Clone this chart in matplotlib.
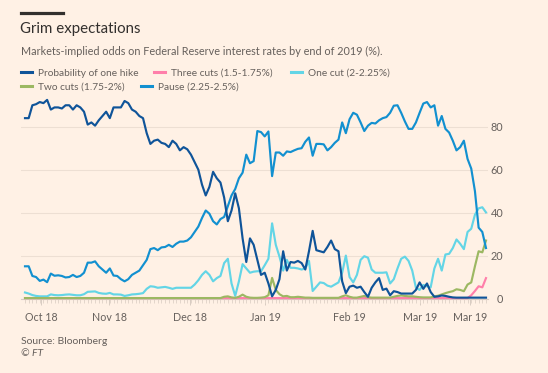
import matplotlib
matplotlib.use("Agg")
import matplotlib.pyplot as plt
from matplotlib.lines import Line2D
import numpy as np

# ---------------- data (trading-day index) ----------------
hike = [84, 84, 90, 90.5, 91.5, 91, 92.5, 88, 89, 89,
        88.5, 90, 90, 88, 90, 89, 87, 81, 82, 80.5,
        83, 85, 87, 84, 89, 89, 89, 92, 91, 88,
        87, 85, 84, 77, 72, 73.5, 74, 72.5, 72, 70.5,
        73.5, 72, 69, 70.5, 69.5, 67, 63.5, 60, 53, 48,
        52, 59, 56, 54, 47, 36, 41, 49, 42, 28,
        17, 28, 25, 18, 11, 12, 7, 1, 4, 9,
        22, 13, 17, 16.7, 17.5, 16.5, 13.5, 22, 31.5, 22.5,
        22, 21.5, 24, 27, 23, 22, 8, 2.5, 5.5, 6,
        5, 5.5, 3, 0.8, 5, 7.5, 9.5, 4, 4.6, 1.5,
        3.4, 3, 2.3, 2.3, 2.3, 2.3, 4, 7.5, 4.5, 7,
        3, 0.8, 1, 1.4, 1.2, 0.8, 0.5, 0.4, 0.4, 0.4,
        0.4, 0.4, 0.4, 0.4, 0.4, 0.4]

three_cuts = [0.2] * 121 + [1.5, 3.5, 5.7, 5.2, 9.5]

one_cut = [2.8, 2.3, 1.6, 1.2, 1, 1, 1, 1.9, 1.6, 1.5,
           1.6, 1.8, 1.9, 1.7, 1.5, 1.5, 2, 3.1, 3.2, 3.3,
           2.6, 2.3, 2.2, 2.6, 1.9, 1.9, 1.8, 1.2, 1.5, 1.9,
           2, 2.2, 2.5, 4.5, 5.7, 5.5, 5, 5.2, 5.4, 5,
           4.5, 5, 5, 5, 5, 5, 6.5, 8.5, 11, 12.7,
           11, 8, 9.5, 10.5, 16.5, 18.5, 7, 1.2, 8, 16,
           14, 12, 12.5, 12.7, 12.7, 15.5, 18.5, 35, 25, 19.5,
           13, 18, 14.3, 14.3, 14, 13.5, 14, 17.5, 3.5, 5.5,
           7.5, 7.2, 6, 5.5, 6.5, 7.5, 12, 20, 10, 7.5,
           11, 18, 19.7, 19, 13.5, 12, 12, 12, 12.2, 7,
           9, 14, 18.5, 19.5, 17.5, 13, 5, 4, 6.3, 5.7,
           5.2, 14, 18.5, 13, 20.5, 20.8, 23.5, 27.5, 25.5, 23,
           31, 32.5, 39, 42, 42.5, 40.1]

two_cuts = [0.2] * 54 + [0.8, 1, 0.5, 0.3, 0.8, 1.8, 0.8, 0.4, 0.3, 0.3,
                         0.4, 0.6, 1.5, 9.6, 4, 2, 1, 1.2, 0.6, 0.6,
                         0.8, 0.6, 0.4, 0.4, 0.3, 0.3, 0.3, 0.3, 0.3, 0.3,
                         0.3, 0.3, 1, 1.5, 0.8, 0.4, 0.4, 0.8, 1.2, 0.6,
                         0.4, 0.4, 0.4, 0.4, 0.4, 0.4, 0.8, 1.2, 1.4, 1.2,
                         1, 1, 0.8, 0.6, 0.5, 0.5, 0.5, 1, 1.3, 1.9,
                         2.5, 3, 3.4, 4.3, 4, 3.4, 6.5, 7.5, 15, 22,
                         21.5, 27]

pause = [15, 15, 10.5, 10, 8.2, 8.8, 7.6, 11.6, 10.6, 10.8,
         10.5, 9.8, 10, 11, 10, 10.5, 12, 16.7, 16.7, 17.3,
         15, 13.5, 12, 14, 10.7, 10.5, 9, 8, 9, 11,
         12, 13, 15.5, 18, 23, 23.5, 22.5, 23.8, 24, 25,
         24, 25.5, 26.5, 26.5, 27, 28.5, 31, 33.5, 37.5, 41,
         39.5, 36, 34.5, 37, 38, 43, 48, 51, 56, 58.6,
         67, 63, 64, 78, 77.5, 75.5, 77.8, 57, 68, 68,
         66.5, 68.5, 68.2, 69, 69.7, 70, 73, 75, 66.5, 72,
         72, 71.8, 69, 70.5, 72.5, 74, 82, 77, 83.5, 86.5,
         85.6, 82, 78, 80.5, 81.8, 81.5, 83, 84, 84.5, 86.5,
         89.8, 90, 86.5, 82.5, 79, 79, 82, 86.5, 90.8, 91.5,
         89, 90, 80.5, 85, 79, 77.3, 73.5, 69, 70.5, 73.5,
         65, 60.5, 50, 33, 31, 23.5]

series_names = ["Probability of one hike", "Three cuts (1.5-1.75%)",
                "One cut (2-2.25%)", "Two cuts (1.75-2%)", "Pause (2.25-2.5%)"]
tick_pos = [4.34, 22.8, 44.7, 65.1, 87.9, 107.1, 120.7]
tick_labels = ["Oct 18", "Nov 18", "Dec 18", "Jan 19", "Feb 19", "Mar 19", "Mar 19"]
y_ticks = [0, 20, 40, 60, 80]

# ---------------- style ----------------
BG = "#fff1e5"
TXT = "#66605c"
colors = {
    "hike": "#0f5499",
    "three": "#ff7faa",
    "one": "#63d5e6",
    "two": "#9cb862",
    "pause": "#1290d0",
}
FONT = ["Lato", "DejaVu Sans"]
plt.rcParams["font.family"] = FONT

W, H = 548, 373
fig = plt.figure(figsize=(W / 100, H / 100), dpi=100, facecolor=BG)

def fx(px):
    return px / W

def fy(py):
    return 1 - py / H

ax_left, ax_right, ax_top, ax_bot = 21, 488, 95, 298.5
ax = fig.add_axes([fx(ax_left), fy(ax_bot), (ax_right - ax_left) / W, (ax_bot - ax_top) / H])
ax.set_facecolor(BG)

x = np.arange(len(hike))
lw = 1.55
ax.plot(x, three_cuts, color=colors["three"], lw=lw, clip_on=False, zorder=3, solid_joinstyle="round")
ax.plot(x, one_cut, color=colors["one"], lw=lw, clip_on=False, zorder=4, solid_joinstyle="round")
ax.plot(x, two_cuts, color=colors["two"], lw=lw, clip_on=False, zorder=4, solid_joinstyle="round")
ax.plot(x, pause, color=colors["pause"], lw=lw, clip_on=False, zorder=5, solid_joinstyle="round")
ax.plot(x, hike, color=colors["hike"], lw=lw, clip_on=False, zorder=6, solid_joinstyle="round")

px_per_idx = (486 - 25) / 125
ax.set_xlim(-(25 - ax_left) / px_per_idx, 125 + (ax_right - 486) / px_per_idx)
ax.set_ylim(0, (ax_bot - ax_top) / 2.147)

for s in ["top", "left", "right"]:
    ax.spines[s].set_visible(False)
ax.spines["bottom"].set_color("#d8ccc2")
ax.spines["bottom"].set_linewidth(0.8)

ax.set_yticks(y_ticks)
ax.yaxis.tick_right()
ax.tick_params(axis="y", length=0, pad=11, labelsize=7.8, labelcolor=TXT)
for lab in ax.get_yticklabels():
    lab.set_horizontalalignment("right")
ax.grid(axis="y", color="#eddfd3", lw=0.8)
ax.set_axisbelow(True)

ax.set_xticks(tick_pos)
ax.set_xticklabels(tick_labels)
ax.set_xticks(np.arange(0, 126), minor=True)
ax.tick_params(axis="x", which="major", length=4, width=0.7, color="#d8ccc2", pad=6,
               labelsize=7.7, labelcolor=TXT)
ax.tick_params(axis="x", which="minor", length=3, width=0.7, color="#e3d6cb")

# ---------------- header ----------------
fig.add_artist(Line2D([fx(21), fx(63)], [fy(13.3), fy(13.3)], color="#33302e", lw=2.3))
fig.text(fx(20.5), fy(29.3), "Grim expectations", fontsize=10.8, color="#33302e",
         ha="left", va="center")
fig.text(fx(21), fy(51), "Markets-implied odds on Federal Reserve interest rates by end of 2019 (%).",
         fontsize=7.8, color=TXT, ha="left", va="center")

leg_specs = [
    (series_names[0], colors["hike"], 21, 73.5),
    (series_names[1], colors["three"], 154, 73.5),
    (series_names[2], colors["one"], 291, 73.5),
    (series_names[3], colors["two"], 21, 87.5),
    (series_names[4], colors["pause"], 141, 87.5),
]
for name, c, lx, ly in leg_specs:
    h = Line2D([], [], color=c, lw=2.2)
    fig.legend(handles=[h], labels=[name], loc="center left",
               bbox_to_anchor=(fx(lx), fy(ly)), frameon=False, borderpad=0,
               borderaxespad=0, handlelength=1.1, handletextpad=0.6,
               fontsize=7.3, labelcolor=TXT)

fig.text(fx(21), fy(341.7), "Source: Bloomberg", fontsize=7.5, color=TXT, ha="left", va="center")
fig.text(fx(21), fy(353.3), "© FT", fontsize=7.5, color=TXT, ha="left", va="center", style="italic")

fig.savefig("out.png", dpi=100, facecolor=BG)
